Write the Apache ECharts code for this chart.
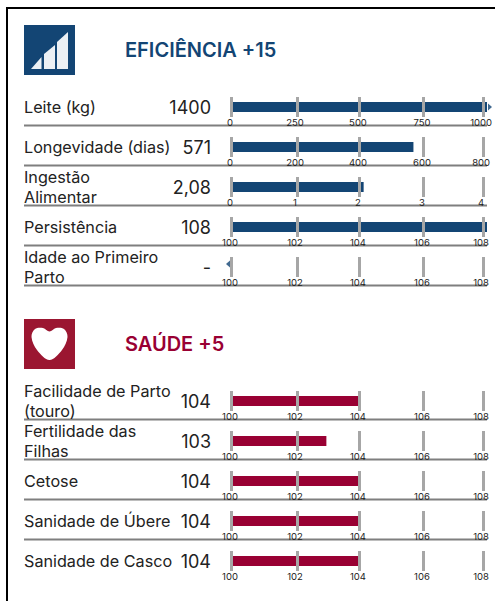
<!DOCTYPE html>
<html><head><meta charset="utf-8">
<style>html,body{margin:0;padding:0;background:#fff}#c{width:495px;height:601px}</style>
<script src="https://cdn.jsdelivr.net/npm/echarts@6/dist/echarts.min.js"></script>
</head><body><div id="c"></div>
<script>
const efficiencyTitle = 'EFICIÊNCIA +15';
const healthTitle = 'SAÚDE +5';
const efficiencyNames = ['Leite (kg)', 'Longevidade (dias)', 'Ingestão\nAlimentar', 'Persistência', 'Idade ao Primeiro\nParto'];
const efficiencyShown = ['1400', '571', '2,08', '108', '-'];
const efficiencyValues = [1400, 571, 2.08, 108, null];
const healthNames = ['Facilidade de Parto\n(touro)', 'Fertilidade das\nFilhas', 'Cetose', 'Sanidade de Úbere', 'Sanidade de Casco'];
const healthShown = ['104', '103', '104', '104', '104'];
const healthValues = [104, 103, 104, 104, 104];
const ticksLeite = [0, 250, 500, 750, 1000];
const ticksLongevidade = [0, 200, 400, 600, 800];
const ticksIngestao = [0, 1, 2, 3, 4];
const ticksIndex = [100, 102, 104, 106, 108];

const BLUE = '#134574', RED = '#990033', FONT = 'Inter, sans-serif';
const tickFrac = [0.0058, 0.2626, 0.5039, 0.7529, 0.9864];
const labelFrac = [0, 0.253, 0.498, 0.747, 0.977];

const rows = [];
const addRows = (names, shown, values, ticks, color, tops) => names.forEach((n, i) =>
  rows.push({name: n, shown: shown[i], value: values[i], ticks: ticks[i], color, top: tops[i]}));
addRows(efficiencyNames, efficiencyShown, efficiencyValues,
  [ticksLeite, ticksLongevidade, ticksIngestao, ticksIndex, ticksIndex], BLUE, [97, 137, 177, 217, 257]);
addRows(healthNames, healthShown, healthValues,
  [ticksIndex, ticksIndex, ticksIndex, ticksIndex, ticksIndex], RED, [391, 431, 471, 511, 551]);

const grid = [], xAxis = [], yAxis = [], series = [], graphic = [];
rows.forEach((r, i) => {
  const min = r.ticks[0], max = r.ticks[r.ticks.length - 1], span = max - min;
  grid.push({left: 230, width: 257, top: r.top, height: 20});
  xAxis.push({
    type: 'value', gridIndex: i, min, max, z: 3, position: 'bottom',
    axisLine: {show: false}, splitLine: {show: false},
    axisTick: {show: true, inside: true, length: 20, customValues: tickFrac.map(f => min + f * span),
      lineStyle: {color: '#a6a6a6', width: 3}},
    axisLabel: {show: true, margin: 0, fontSize: 9.5, fontFamily: FONT, color: '#222',
      customValues: labelFrac.map(f => min + f * span),
      hideOverlap: false,
      formatter: v => String(r.ticks[labelFrac.reduce((b, f, k) =>
        Math.abs(min + f * span - v) < Math.abs(min + labelFrac[b] * span - v) ? k : b, 0)])}
  });
  yAxis.push({
    type: 'category', gridIndex: i, data: [r.name],
    axisLine: {show: false}, axisTick: {show: false},
    axisLabel: {show: true, align: 'left', margin: 206, fontSize: 16.2, lineHeight: 19.8, fontFamily: FONT, color: '#222',
      padding: [0, 0, 4, 0], interval: 0}
  });
  series.push({
    type: 'bar', xAxisIndex: i, yAxisIndex: i, data: [r.value], barWidth: 10, silent: true, z: 2,
    itemStyle: {color: r.color}, animation: false
  });
  if (r.value === null || r.value > max) {
    const over = r.value !== null;
    series.push({
      type: 'scatter', xAxisIndex: i, yAxisIndex: i, clip: false, silent: true, animation: false,
      data: [[over ? max : min, r.name]], symbol: 'triangle', symbolSize: [7, 4],
      symbolRotate: over ? -90 : 90, symbolOffset: [over ? 3 : -2, over ? 0 : -3],
      itemStyle: {color: r.color}
    });
  }
  graphic.push({type: 'text', x: 211, y: r.top + 10, silent: true,
    style: {text: r.shown, fontSize: 18, fontFamily: FONT, fill: '#222', textAlign: 'right', textVerticalAlign: 'middle'}});
  if (i !== 9) graphic.push({type: 'line', silent: true, shape: {x1: 24, y1: r.top + 28.5, x2: 487, y2: r.top + 28.5},
    style: {stroke: '#7f7f7f', lineWidth: 2}});
});

// frame
graphic.push({type: 'rect', silent: true, shape: {x: 6, y: 7, width: 489, height: 2}, style: {fill: '#000'}});
graphic.push({type: 'rect', silent: true, shape: {x: 6, y: 7, width: 2, height: 594}, style: {fill: '#000'}});
// headings
graphic.push({type: 'text', silent: true, x: 125, y: 50, style: {text: efficiencyTitle, fontSize: 20, fontWeight: 600, fontFamily: FONT, fill: BLUE, textVerticalAlign: 'middle'}});
graphic.push({type: 'text', silent: true, x: 125, y: 344, style: {text: healthTitle, fontSize: 20, fontWeight: 600, fontFamily: FONT, fill: RED, textVerticalAlign: 'middle'}});
// icons
graphic.push({type: 'rect', silent: true, shape: {x: 24, y: 25, width: 51, height: 50}, style: {fill: BLUE}});
[[[31, 69], [41.5, 57], [41.5, 69]], [[44, 69], [44, 54], [55, 45], [55, 69]], [[57, 69], [57, 42], [68, 32], [68, 69]]].forEach(p =>
  graphic.push({type: 'polygon', silent: true, shape: {points: p}, style: {fill: '#fff', opacity: 0.92}}));
graphic.push({type: 'rect', silent: true, shape: {x: 24, y: 319, width: 51, height: 50}, style: {fill: '#9b1631'}});
graphic.push({type: 'polygon', silent: true, shape: {smooth: 0.35, points: [[49.5, 360], [37, 350], [31.5, 337], [35, 329], [43, 328], [49.5, 331.5], [56, 328], [64, 329], [67.5, 337], [62, 350]]},
  style: {fill: '#fff'}});

const chart = echarts.init(document.getElementById('c'), null, {renderer: 'svg'});
chart.setOption({animation: false, grid, xAxis, yAxis, series, graphic, tooltip: {show: false}});
</script></body></html>
